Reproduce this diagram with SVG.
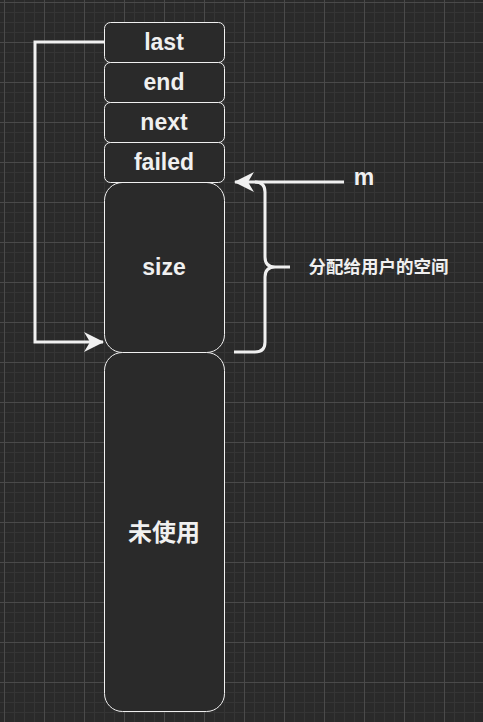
<svg xmlns="http://www.w3.org/2000/svg" width="483" height="722" viewBox="0 0 483 722">
<defs>
<pattern id="minor" x="4" y="2" width="10" height="10" patternUnits="userSpaceOnUse">
<path d="M0 0.5H10M0.5 0V10" stroke="#353535" stroke-width="1" fill="none"/>
</pattern>
<pattern id="major" x="4" y="2" width="40" height="40" patternUnits="userSpaceOnUse">
<path d="M0 0.5H40M0.5 0V40" stroke="#4a4a4a" stroke-width="1" fill="none"/>
</pattern>
<marker id="arr" viewBox="0 0 20 20" refX="19" refY="10" markerWidth="20" markerHeight="20" markerUnits="userSpaceOnUse" orient="auto">
<path d="M0 0 L20 10 L0 20 L6 10 Z" fill="#f0f0f0"/>
</marker>
<style>
.box{fill:#2a2a2a;stroke:#f0f0f0;stroke-width:1}
.t{fill:#f0f0f0;font-family:"Liberation Sans","Noto Sans CJK SC",sans-serif;font-weight:bold;text-anchor:middle}
.c{fill:none;stroke:#f0f0f0;stroke-width:3}
</style>
</defs>
<rect width="483" height="722" fill="#2a2a2a"/>
<rect width="483" height="722" fill="url(#minor)"/>
<rect width="483" height="722" fill="url(#major)"/>
<g id="unused"><rect class="box" x="104.5" y="352.5" width="120" height="359" rx="18"/><text class="t" x="164" y="541" font-size="24">未使用</text></g>
<g id="size"><rect class="box" x="104.5" y="182.5" width="120" height="170" rx="18"/><text class="t" x="164" y="275" font-size="23">size</text></g>
<g id="failed"><rect class="box" x="104.5" y="142.5" width="120" height="40" rx="6"/><text class="t" x="164" y="170" font-size="23">failed</text></g>
<g id="next"><rect class="box" x="104.5" y="102.5" width="120" height="40" rx="6"/><text class="t" x="164" y="130" font-size="23">next</text></g>
<g id="end"><rect class="box" x="104.5" y="62.5" width="120" height="40" rx="6"/><text class="t" x="164" y="90" font-size="23">end</text></g>
<g id="last"><rect class="box" x="104.5" y="22.5" width="120" height="40" rx="6"/><text class="t" x="164" y="50" font-size="23">last</text></g>
<g id="m"><text class="t" x="364" y="185" font-size="23">m</text></g>
<g id="label"><text class="t" x="378.5" y="273" font-size="17.5">分配给用户的空间</text></g>
<g id="connectors">
<path class="c" d="M104 42 H35 V342 H103" marker-end="url(#arr)"/>
<path class="c" d="M344 182 H235" marker-end="url(#arr)"/>
<path class="c" d="M234 352 H255 Q265 352 265 342 V277 Q265 267 275 267 H290 M275 267 Q265 267 265 257 V192 Q265 182 255 182"/>
</g>
</svg>
